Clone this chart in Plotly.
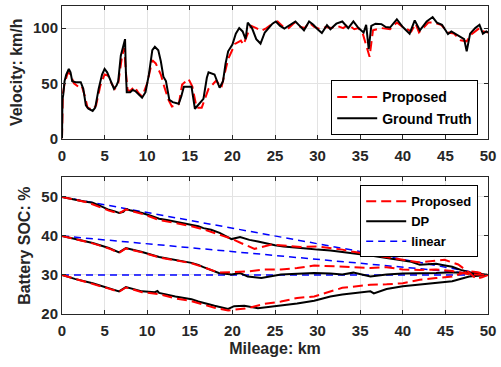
import plotly.graph_objects as go

# ---------------- data ----------------
gt_km = [0.0, 0.05, 0.15, 0.3, 0.5, 0.8, 1.0, 1.2, 1.6, 2.2, 2.5, 2.8, 3.1, 3.6, 3.9, 4.3, 4.7, 5.0, 5.3, 5.7,
         6.1, 6.4, 6.6, 6.9, 7.2, 7.4, 7.5, 7.6, 8.0, 8.3, 8.6, 9.0, 9.4, 9.8, 10.2, 10.6, 10.9, 11.3, 11.6, 11.9,
         12.2, 12.6, 13.0, 13.7, 14.0, 14.3, 15.2, 15.6, 16.2, 16.6, 17.0, 17.2, 17.9, 18.5, 18.9, 19.2, 19.5, 20.0,
         20.4, 20.8, 21.2, 21.55, 21.8, 22.3, 22.8, 23.3, 23.8, 24.2, 24.7, 25.1, 25.6, 26.1, 26.6, 27.0, 27.4, 27.9,
         28.4, 29.0, 29.5, 30.0, 30.5, 31.1, 31.5, 32.2, 32.9, 33.6, 34.2, 34.8, 35.4, 35.7, 36.0, 36.3, 36.8, 37.5,
         38.0, 38.5, 39.3, 40.0, 40.8, 41.4, 42.0, 42.5, 42.8, 43.5, 44.0, 44.6, 45.3, 45.7, 46.6, 47.2, 47.5, 47.9,
         48.5, 49.0, 49.4, 49.8, 50.0]
gt_v = [0, 35, 40, 52, 58, 63, 60, 52, 51, 51, 45, 30, 27, 25, 28, 45, 58, 63, 60, 52,
        45, 48, 52, 75, 85, 90, 60, 42, 42, 44, 43, 40, 37, 42, 58, 80, 83, 80, 70, 56,
        52, 35, 33, 31.5, 38, 47, 47, 27, 33, 36, 55, 60, 58, 46, 52, 68, 79, 85,
        95, 100, 97, 90, 105, 100, 90, 86, 96, 100, 104, 106, 102, 99.6, 102, 104, 106, 102,
        98, 106, 103, 99, 95.5, 102.7, 99, 104, 106, 100, 106, 100, 96, 103, 81, 102, 104, 103.6,
        101, 100.5, 108, 101, 95, 107, 98, 103, 106, 110, 105, 103, 94.6, 97, 93, 90, 79, 95,
        100, 103, 95, 97, 96]

pv_km = [0.0, 0.1, 0.3, 0.7, 1.0, 1.4, 1.9, 2.3, 2.7, 3.0, 3.6, 4.0, 4.5, 5.0, 5.4, 5.8, 6.2, 6.6, 7.0, 7.3,
         7.5, 7.7, 8.0, 8.5, 9.0, 9.4, 10.0, 10.6, 11.0, 11.6, 12.0, 12.5, 12.9, 13.7, 14.1, 14.85, 15.3, 15.8,
         16.4, 17.2, 18.1, 18.7, 19.5, 20.3, 21.0, 21.3, 21.8, 22.2, 22.8, 23.4, 24.0, 24.7, 25.3, 26.0, 26.6,
         27.3, 28.0, 28.5, 29.0, 29.6, 30.3, 31.0, 31.6, 32.3, 33.0, 33.6, 34.3, 34.8, 35.3, 35.7, 36.1, 36.5,
         37.5, 38.5, 39.3, 40.0, 41.0, 41.5, 41.9, 43.0, 43.5, 44.5, 45.3, 46.0, 46.8, 47.5, 48.0, 49.0, 49.5, 50.0]
pv_v = [0, 40, 50, 60, 58, 50, 47, 48, 38, 28, 26, 30, 48, 58, 57, 50, 45, 50, 72, 82,
        60, 44, 43, 47, 41, 38, 50, 71, 68, 58, 47, 35, 29, 31, 49, 54, 47, 28,
        28, 45, 52.5, 46, 72, 85.6, 88.6, 85, 95, 102, 100, 97.6, 100, 104, 106, 101, 100,
        105, 101, 100, 105, 101, 99, 101, 100, 102, 100, 103, 99, 100, 95, 84, 74, 98,
        100, 99, 105, 101, 97, 104, 96, 105, 105, 103, 96, 95, 89, 88, 94, 100, 97, 96]

dp1_km = [0, 1, 2, 3, 3.6, 4.5, 5.5, 6.2, 6.7, 7.2, 7.5, 8.0, 9.4, 10.5, 11.4, 12.3, 13.3, 14.2, 15.2, 16.0,
          16.6, 17.5, 18.5, 19.3, 19.9, 20.9, 22.0, 23.0, 23.8, 25.0, 26.0, 27.6, 29.0, 30.0, 31.5, 32.9, 34.0,
          35.0, 36.2, 38.1, 40.0, 41.0, 42.0, 43.0, 43.9, 44.8, 45.8, 46.8, 47.8, 48.8, 50.0]
dp1_soc = [50, 49.5, 49.1, 48.7, 48.5, 47.7, 46.7, 46.3, 45.9, 46.2, 46.9, 46.6, 45.9, 45.1, 44.4, 44.1, 43.7,
           43.3, 42.9, 42.5, 42.0, 41.6, 40.8, 40.0, 39.2, 39.7, 39.0, 38.6, 38.2, 37.6, 37.3, 36.9, 36.7, 36.5,
           36.3, 35.9, 35.5, 35.3, 35.0, 34.4, 33.9, 33.4, 32.6, 32.8, 32.9, 32.5, 32.1, 31.3, 30.7, 30.3, 30.0]
pr1_km = [0, 3, 5.5, 6.7, 7.5, 9.5, 11.4, 13.3, 15.2, 16.6, 18.5, 19.9, 21.0, 22.6, 24.6, 26.0, 28.0, 30.0,
          31.5, 32.9, 34.0, 36.2, 38.1, 40.0, 42.0, 43.9, 44.9, 46.5, 47.8, 48.6, 49.3, 50]
pr1_soc = [50, 48.6, 46.5, 45.8, 46.8, 45.6, 44.1, 43.3, 42.5, 41.7, 40.4, 39.3, 38.2, 36.7, 37.8, 37.5, 37.2,
           37.3, 36.9, 36.5, 36.0, 35.2, 34.6, 33.9, 33.2, 33.7, 33.9, 32.7, 30.6, 29.0, 29.4, 30]

dp2_km = [0, 1.5, 3.6, 5.5, 6.7, 7.5, 9.4, 11.4, 13.3, 15.2, 16.0, 16.6, 18.4, 19.9, 20.9, 21.8, 23.4, 25.7,
          27.6, 29.6, 31.5, 32.9, 34.2, 36.2, 38.1, 40.0, 43.9, 45.8, 47.8, 50]
dp2_soc = [40, 39.3, 38.2, 36.9, 35.8, 36.9, 35.9, 34.6, 33.9, 33.1, 32.6, 32.0, 30.5, 30.1, 30.5, 29.6, 29.2,
           30.1, 30.3, 30.5, 30.4, 30.1, 30.6, 29.6, 30.1, 30.4, 30.5, 30.7, 30.4, 30]
pr2_km = [0, 3.6, 5.5, 6.7, 7.5, 9.4, 11.4, 13.3, 15.2, 16.6, 18.4, 19.9, 21.8, 23.8, 25.7, 27.6, 29.6, 32.3,
          34.2, 36.2, 38.1, 40.0, 42.0, 43.9, 45.8, 47.8, 50]
pr2_soc = [40, 38.1, 36.8, 35.7, 36.8, 35.8, 34.5, 33.8, 33.0, 32.0, 30.6, 30.7, 30.9, 31.4, 31.4, 31.8, 32.4,
           32.2, 32.0, 31.8, 32.0, 31.4, 31.3, 31.4, 31.0, 30.2, 30]

dp3_km = [0, 1.5, 3.6, 5.5, 6.7, 7.5, 9.4, 10.9, 11.2, 11.4, 13.3, 15.2, 16.0, 17.9, 19.5, 20.2, 21.4, 23.0,
          25.7, 27.6, 29.6, 31.5, 32.9, 35.0, 36.2, 36.6, 38.1, 40.0, 42.0, 43.9, 45.8, 47.8, 50]
dp3_soc = [30, 29.0, 27.9, 26.7, 25.8, 26.9, 25.8, 25.6, 25.9, 25.4, 24.5, 23.8, 23.2, 22.1, 21.3, 22.0, 22.1,
           21.5, 22.1, 22.7, 23.4, 24.5, 25.0, 25.6, 25.8, 25.3, 26.4, 27.1, 27.5, 27.9, 28.4, 29.6, 30]
pr3_km = [0, 3.6, 5.5, 6.7, 7.5, 9.4, 11.4, 13.3, 15.2, 17.9, 19.5, 21.8, 23.8, 25.7, 27.6, 29.6, 32.9, 36.2,
          38.1, 40.0, 42.0, 43.9, 45.8, 47.8, 48.8, 50]
pr3_soc = [30, 27.8, 26.5, 25.7, 26.8, 25.6, 25.1, 24.0, 23.3, 21.6, 20.9, 21.5, 22.6, 23.2, 24.1, 24.5, 26.7,
           27.5, 27.6, 27.9, 28.8, 29.2, 29.6, 31.0, 30.7, 30]

lin_km = [0, 50]
lin1_soc = [50, 30]
lin2_soc = [40, 30]
lin3_soc = [30, 30]

x_ticks = [0, 5, 10, 15, 20, 25, 30, 35, 40, 45, 50]
v_ticks = [0, 50, 100]
soc_ticks = [20, 30, 40, 50]

# ---------------- styles ----------------
RED = "#ff0000"
BLUE = "#0000ff"
BLACK = "#000000"
red_line = dict(color=RED, width=2, dash="10px,5px")
black_line = dict(color=BLACK, width=2)
blue_line = dict(color=BLUE, width=1.5, dash="7px,5px")

fig = go.Figure()

fig.add_trace(go.Scatter(x=pv_km, y=pv_v, mode="lines", line=red_line, name="Proposed",
                         xaxis="x", yaxis="y", legend="legend"))
fig.add_trace(go.Scatter(x=gt_km, y=gt_v, mode="lines", line=black_line, name="Ground Truth",
                         xaxis="x", yaxis="y", legend="legend"))

for i, (lk, lv) in enumerate([(lin_km, lin1_soc), (lin_km, lin2_soc), (lin_km, lin3_soc)]):
    fig.add_trace(go.Scatter(x=lk, y=lv, mode="lines", line=blue_line, name="linear",
                             showlegend=(i == 0), xaxis="x2", yaxis="y2", legend="legend2",
                             legendrank=3))
for i, (k, s) in enumerate([(dp1_km, dp1_soc), (dp2_km, dp2_soc), (dp3_km, dp3_soc)]):
    fig.add_trace(go.Scatter(x=k, y=s, mode="lines", line=black_line, name="DP",
                             showlegend=(i == 0), xaxis="x2", yaxis="y2", legend="legend2",
                             legendrank=2))
for i, (k, s) in enumerate([(pr1_km, pr1_soc), (pr2_km, pr2_soc), (pr3_km, pr3_soc)]):
    fig.add_trace(go.Scatter(x=k, y=s, mode="lines", line=red_line, name="Proposed",
                             showlegend=(i == 0), xaxis="x2", yaxis="y2", legend="legend2",
                             legendrank=1))

FONT = "Liberation Sans"
TXT = "#262626"
tick_font = dict(family=FONT, size=15, color=TXT, weight="bold")
title_font = dict(family=FONT, size=16, color=TXT, weight="bold")

axis_common = dict(showline=True, linecolor=TXT, linewidth=1, mirror="ticks",
                   ticks="inside", ticklen=4, tickcolor=TXT, tickwidth=1,
                   showgrid=True, gridcolor="#e3e3e3", gridwidth=1, zeroline=False,
                   tickfont=tick_font)

fig.update_layout(
    width=501, height=367,
    margin=dict(l=62, r=9, t=5, b=53),
    paper_bgcolor="white", plot_bgcolor="white",
    showlegend=True,
    xaxis=dict(domain=[0, 1], anchor="y", range=[0, 50], tickvals=x_ticks,
               ticklabelstandoff=3, **axis_common),
    yaxis=dict(domain=[0.5696, 1], anchor="x", range=[0, 120], tickvals=v_ticks,
               title=dict(text="Velocity: km/h", font=title_font, standoff=6), **axis_common),
    xaxis2=dict(domain=[0, 1], anchor="y2", range=[0, 50], tickvals=x_ticks,
                ticklabelstandoff=3,
                title=dict(text="Mileage: km", font=title_font, standoff=4), **axis_common),
    yaxis2=dict(domain=[0, 0.4434], anchor="x2", range=[20, 55], tickvals=soc_ticks,
                title=dict(text="Battery SOC: %", font=title_font, standoff=6), **axis_common),
    legend=dict(x=0.977, xanchor="right", y=0.58, yanchor="bottom",
                bgcolor="white", bordercolor=BLACK, borderwidth=1,
                font=dict(family=FONT, size=14, color=BLACK, weight="bold"),
                itemwidth=40, tracegroupgap=0),
    legend2=dict(x=0.977, xanchor="right", y=0.4175, yanchor="top",
                 bgcolor="white", bordercolor=BLACK, borderwidth=1,
                 font=dict(family=FONT, size=13, color=BLACK, weight="bold"),
                 itemwidth=40, tracegroupgap=0),
)

fig.write_html("out.html")
